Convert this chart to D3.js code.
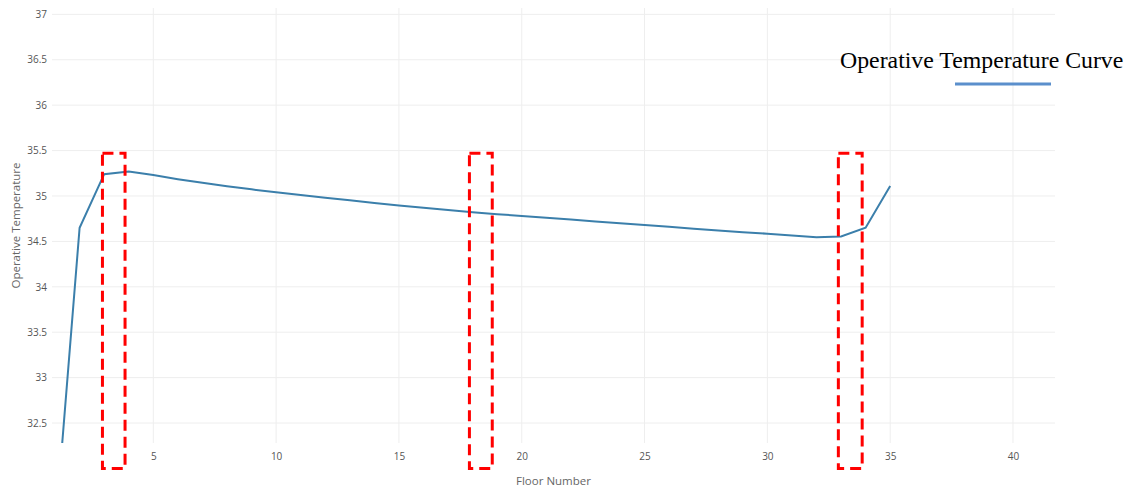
<!DOCTYPE html>
<html>
<head>
<meta charset="utf-8">
<script src="https://cdn.jsdelivr.net/npm/d3@7"></script>
<style>
  body { margin: 0; background: #fff; }
  svg { display: block; }
</style>
</head>
<body>
<svg id="chart" width="1133" height="487"></svg>
<script>
// ---- data ----
const floors = [1,2,3,4,5,6,7,8,9,10,11,12,13,14,15,16,17,18,19,20,21,22,23,24,25,26,27,28,29,30,31,32,33,34,35];
const temps  = [31.3,34.65,35.24,35.27,35.23,35.185,35.145,35.108,35.073,35.04,35.01,34.98,34.952,34.924,34.896,34.87,34.845,34.822,34.80,34.78,34.76,34.74,34.72,34.70,34.68,34.66,34.64,34.62,34.60,34.585,34.565,34.545,34.555,34.65,35.11];
const xTicks = [5,10,15,20,25,30,35,40];
const yTicks = [32.5,33,33.5,34,34.5,35,35.5,36,36.5,37];
const boxX0 = [2.93, 17.87, 32.89];
const boxX1 = [3.85, 18.8, 33.86];
const boxTop = 35.47, boxBottom = 32.0;
const legendLabel = "Operative Temperature Curve";
const xTitle = "Floor Number";
const yTitle = "Operative Temperature";

// ---- layout ----
const svg = d3.select("#chart");
const L = 52, R = 1055, T = 8, B = 443;
const x = d3.scaleLinear().domain([0.876, 41.71]).range([L, R]);
const y = d3.scaleLinear().domain([32.28, 37.07]).range([B, T]);

svg.append("defs").append("clipPath").attr("id", "clip")
  .append("rect").attr("x", L).attr("y", T).attr("width", R - L).attr("height", B - T);

// gridlines
const grid = svg.append("g");
grid.selectAll(".vg").data(xTicks).join("line")
  .attr("x1", d => x(d)).attr("x2", d => x(d)).attr("y1", T).attr("y2", B)
  .attr("stroke", "#eeeeee").attr("stroke-width", 1);
grid.selectAll(".hg").data(yTicks).join("line")
  .attr("x1", L).attr("x2", R).attr("y1", d => y(d)).attr("y2", d => y(d))
  .attr("stroke", "#eeeeee").attr("stroke-width", 1);

// axes (labels only)
const fontTick = "'Open Sans', sans-serif";
const xAxis = svg.append("g").attr("transform", `translate(0,${B})`)
  .call(d3.axisBottom(x).tickValues(xTicks).tickSize(0).tickPadding(10).tickFormat(d3.format("d")));
xAxis.select(".domain").remove();
xAxis.selectAll("text").attr("font-family", fontTick).attr("font-size", 10).attr("fill", "#555");

const yAxis = svg.append("g").attr("transform", `translate(${L},0)`)
  .call(d3.axisLeft(y).tickValues(yTicks).tickSize(0).tickPadding(5).tickFormat(d => String(d)));
yAxis.select(".domain").remove();
yAxis.selectAll("text").attr("font-family", fontTick).attr("font-size", 10).attr("fill", "#555");

// titles
svg.append("text").attr("x", (L + R) / 2).attr("y", 485).attr("text-anchor", "middle")
  .attr("font-family", fontTick).attr("font-size", 11.5).attr("fill", "#666").text(xTitle);
svg.append("text").attr("transform", `translate(20,${(T + B) / 2}) rotate(-90)`).attr("text-anchor", "middle")
  .attr("font-family", fontTick).attr("font-size", 11.5).attr("fill", "#666").text(yTitle);

// line
const pts = floors.map((f, i) => [f, temps[i]]);
svg.append("path").datum(pts).attr("clip-path", "url(#clip)")
  .attr("d", d3.line().x(d => x(d[0])).y(d => y(d[1])))
  .attr("fill", "none").attr("stroke", "#3b7fab").attr("stroke-width", 2);

// dashed boxes
svg.append("g").selectAll("rect").data(boxX0).join("rect")
  .attr("x", (d) => x(d)).attr("y", y(boxTop))
  .attr("width", (d, i) => x(boxX1[i]) - x(d)).attr("height", y(boxBottom) - y(boxTop))
  .attr("fill", "none").attr("stroke", "#ff0000").attr("stroke-width", 3)
  .attr("stroke-dasharray", "11,6");

// legend
svg.append("text").attr("x", 840).attr("y", 68)
  .attr("font-family", "'Liberation Serif', 'Times New Roman', serif").attr("font-size", 23.8)
  .attr("fill", "#000").text(legendLabel);
svg.append("line").attr("x1", 955).attr("x2", 1051).attr("y1", 84).attr("y2", 84)
  .attr("stroke", "#5b8fcc").attr("stroke-width", 3);
</script>
</body>
</html>
